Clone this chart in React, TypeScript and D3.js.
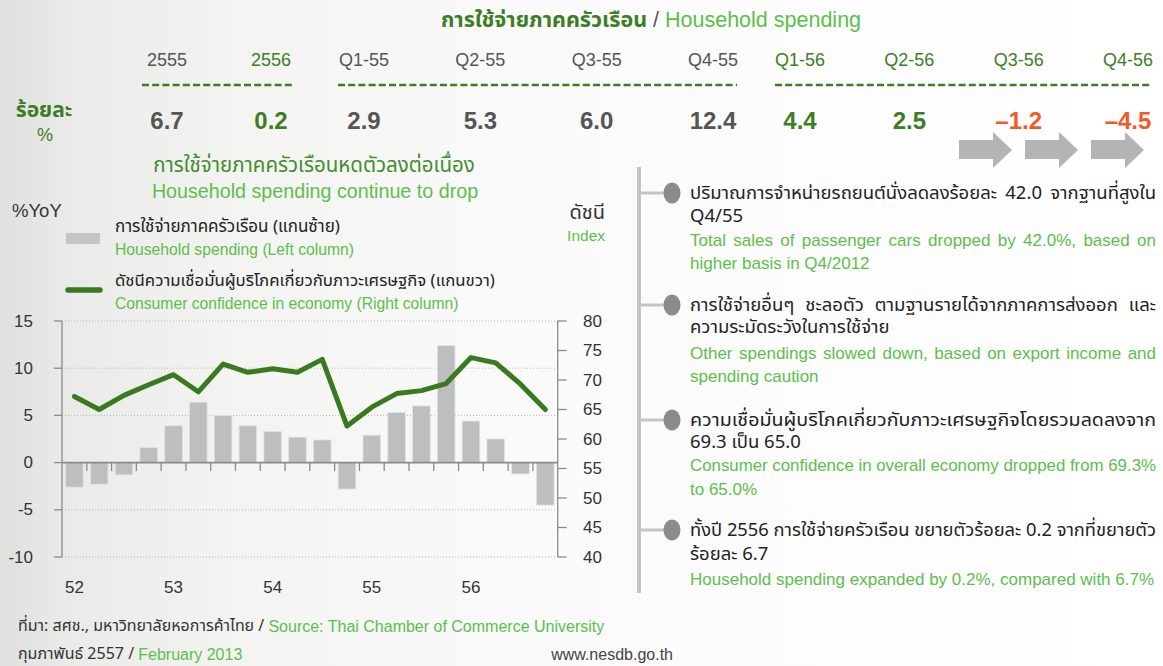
import React, { useLayoutEffect, useRef, useState } from "react";
import * as d3 from "d3";

// ---------- DATA ----------
const headerLabels = ["2555", "2556", "Q1-55", "Q2-55", "Q3-55", "Q4-55", "Q1-56", "Q2-56", "Q3-56", "Q4-56"];
const headerValues = [6.7, 0.2, 2.9, 5.3, 6.0, 12.4, 4.4, 2.5, -1.2, -4.5];
const headerTone = ["gray", "green", "gray", "gray", "gray", "gray", "green", "green", "red", "red"];

const quarters = [
  "52Q1", "52Q2", "52Q3", "52Q4",
  "53Q1", "53Q2", "53Q3", "53Q4",
  "54Q1", "54Q2", "54Q3", "54Q4",
  "55Q1", "55Q2", "55Q3", "55Q4",
  "56Q1", "56Q2", "56Q3", "56Q4",
];
const spending = [-2.6, -2.3, -1.3, 1.6, 3.9, 6.4, 5.0, 3.9, 3.3, 2.7, 2.4, -2.8, 2.9, 5.3, 6.0, 12.4, 4.4, 2.5, -1.2, -4.5];
const confidence = [67.2, 65.0, 67.4, 69.2, 70.9, 68.0, 72.7, 71.3, 71.9, 71.3, 73.5, 62.2, 65.4, 67.7, 68.2, 69.4, 73.8, 72.9, 69.3, 65.0];
const yearLabels = ["52", "53", "54", "55", "56"];
const yearFirstQuarter = ["52Q1", "53Q1", "54Q1", "55Q1", "56Q1"];
const leftTicks = [-10, -5, 0, 5, 10, 15];
const rightTicks = [40, 45, 50, 55, 60, 65, 70, 75, 80];

const notes = [
  {
    th: ["ปริมาณการจำหน่ายรถยนต์นั่งลดลงร้อยละ 42.0 จากฐานที่สูงใน", "Q4/55"],
    en: ["Total sales of passenger cars dropped by 42.0%, based on", "higher basis in Q4/2012"],
  },
  {
    th: ["การใช้จ่ายอื่นๆ ชะลอตัว ตามฐานรายได้จากภาคการส่งออก และ", "ความระมัดระวังในการใช้จ่าย"],
    en: ["Other spendings slowed down, based on export income and", "spending caution"],
  },
  {
    th: ["ความเชื่อมั่นผู้บริโภคเกี่ยวกับภาวะเศรษฐกิจโดยรวมลดลงจาก", "69.3 เป็น 65.0"],
    en: ["Consumer confidence in overall economy dropped from 69.3%", "to 65.0%"],
  },
  {
    th: ["ทั้งปี 2556 การใช้จ่ายครัวเรือน ขยายตัวร้อยละ 0.2 จากที่ขยายตัว", "ร้อยละ 6.7"],
    en: ["Household spending expanded by 0.2%, compared with 6.7%"],
  },
];

// ---------- STYLE / LAYOUT ----------
const FONT = "'Liberation Sans', Arial, Helvetica, sans-serif";
const THAI = "'Noto Sans Thai', 'Noto Sans Thai UI', Loma, Garuda, 'Liberation Sans', Arial, sans-serif";
const DARK_GREEN = "#3d7e25";
const LIGHT_GREEN = "#5cbf4c";
const GRAY_TEXT = "#555555";
const ORANGE = "#f15a24";
const toneColor: Record<string, string> = { gray: GRAY_TEXT, green: DARK_GREEN, red: ORANGE };

const W = 1163;
const H = 666;
const plot = { left: 62, right: 557.7, top: 321, bottom: 557 };

const headerGroups = [
  { from: 0, to: 1, x0: 167, x1: 271, dash: [142, 293] },
  { from: 2, to: 5, x0: 364, x1: 713, dash: [338, 737] },
  { from: 6, to: 9, x0: 800, x1: 1128, dash: [775, 1152] },
];
const arrowXs = [959, 1025, 1091];

const noteBulletY = [193, 305, 420, 530];
const noteLineOffsets = [
  [0, 23, 47, 70],
  [0, 22, 48, 71],
  [0, 22, 45, 69],
  [0, 24, 49],
];

function JText(props: {
  x: number; y: number; width: number; text: string; justify: boolean;
  fill: string; fontSize: number; fontFamily: string;
}) {
  const { x, y, width, text, justify, fill, fontSize, fontFamily } = props;
  const ref = useRef<SVGTextElement>(null);
  const [adj, setAdj] = useState<any>({});
  useLayoutEffect(() => {
    if (!justify || !ref.current) return;
    const w = ref.current.getComputedTextLength();
    const n = (text.match(/ /g) || []).length;
    const diff = width - w;
    if (n > 0 && diff >= 0 && diff / n < 25) setAdj({ style: { wordSpacing: `${diff / n}px` } });
    else setAdj({ textLength: width, lengthAdjust: "spacingAndGlyphs" });
  }, [text, width, justify, fontSize]);
  return (
    <text ref={ref} x={x} y={y} fill={fill} fontSize={fontSize} fontFamily={fontFamily}
      dominantBaseline="central" {...adj}>
      {text}
    </text>
  );
}

export default function App() {
  const x = d3.scaleBand<string>().domain(quarters).range([plot.left, plot.right]).paddingInner(0.29).paddingOuter(0.145);
  const yL = d3.scaleLinear().domain([-10, 15]).range([plot.bottom, plot.top]);
  const yR = d3.scaleLinear().domain([40, 80]).range([plot.bottom, plot.top]);
  const step = x.step();
  const bw = x.bandwidth();
  const cx = (q: string) => (x(q) as number) + bw / 2;

  const line = d3.line<number>()
    .x((_, i) => cx(quarters[i]))
    .y((d) => yR(d))
    .curve(d3.curveLinear);

  const boundaryTicks = quarters.slice(1).map((q) => (x(q) as number) - (step - bw) / 2);

  const arrowPath = (ax: number) => {
    const p = d3.path();
    p.moveTo(ax, 140);
    p.lineTo(ax + 34, 140);
    p.lineTo(ax + 34, 132);
    p.lineTo(ax + 53, 150);
    p.lineTo(ax + 34, 168);
    p.lineTo(ax + 34, 159);
    p.lineTo(ax, 159);
    p.closePath();
    return p.toString();
  };

  const fmt = (v: number) => (v < 0 ? "\u2013" + Math.abs(v).toFixed(1) : v.toFixed(1));

  return (
    <svg width={W} height={H} style={{ position: "absolute", left: 0, top: 0, display: "block" }}
      fontFamily={FONT}>
      <defs>
        <linearGradient id="bg" x1="0" x2="1" y1="0" y2="0">
          <stop offset="0" stopColor="#e0e0de" />
          <stop offset="0.06" stopColor="#eaeae8" />
          <stop offset="0.2" stopColor="#f3f3f2" />
          <stop offset="0.45" stopColor="#fafafa" />
          <stop offset="1" stopColor="#ffffff" />
        </linearGradient>
      </defs>
      <rect x={0} y={0} width={W} height={H} fill="url(#bg)" />

      {/* Title */}
      <text x={651} y={20} textAnchor="middle" dominantBaseline="central" fontSize={21.5}>
        <tspan fill={DARK_GREEN} fontWeight="bold" fontFamily={THAI}>การใช้จ่ายภาคครัวเรือน</tspan>
        <tspan fill={GRAY_TEXT}> / </tspan>
        <tspan fill={LIGHT_GREEN}>Household spending</tspan>
      </text>

      {/* Header table */}
      {headerGroups.map((g, gi) => {
        const idx = d3.range(g.from, g.to + 1);
        const sx = d3.scalePoint<number>().domain(idx).range([g.x0, g.x1]);
        return (
          <g key={gi}>
            <line x1={g.dash[0]} x2={g.dash[1]} y1={85} y2={85} stroke={DARK_GREEN} strokeWidth={2.5}
              strokeDasharray="7 3.2" />
            {idx.map((i) => (
              <g key={i}>
                <text x={sx(i)} y={60} textAnchor="middle" dominantBaseline="central" fontSize={18}
                  fill={headerTone[i] === "gray" ? GRAY_TEXT : DARK_GREEN}>{headerLabels[i]}</text>
                <text x={sx(i)} y={120} textAnchor="middle" dominantBaseline="central" fontSize={24}
                  fontWeight="bold" fill={toneColor[headerTone[i]]}>{fmt(headerValues[i])}</text>
              </g>
            ))}
          </g>
        );
      })}
      <text x={44} y={110} textAnchor="middle" dominantBaseline="central" fontSize={21} fontWeight="bold"
        fill={DARK_GREEN} fontFamily={THAI}>ร้อยละ</text>
      <text x={45} y={135} textAnchor="middle" dominantBaseline="central" fontSize={18} fill={DARK_GREEN}>%</text>
      {arrowXs.map((ax) => (
        <path key={ax} d={arrowPath(ax)} fill="#b2b4b6" />
      ))}

      {/* Chart subtitle */}
      <text x={314} y={165} textAnchor="middle" dominantBaseline="central" fontSize={20.5} fill="#3f8f2c"
        fontFamily={THAI}>การใช้จ่ายภาคครัวเรือนหดตัวลงต่อเนื่อง</text>
      <text x={315} y={191} textAnchor="middle" dominantBaseline="central" fontSize={19.7} fill={LIGHT_GREEN}>
        Household spending continue to drop</text>

      <text x={12} y={210} dominantBaseline="central" fontSize={18.5} fill="#333">%YoY</text>
      <text x={605} y={213} textAnchor="end" dominantBaseline="central" fontSize={20} fill="#333"
        fontFamily={THAI}>ดัชนี</text>
      <text x={605} y={235} textAnchor="end" dominantBaseline="central" fontSize={15.5} fill={LIGHT_GREEN}>Index</text>

      {/* Legend */}
      <rect x={66} y={233} width={34} height={11} fill="#c4c5c7" />
      <text x={115} y={227} dominantBaseline="central" fontSize={17} fill="#222" fontFamily={THAI}>
        การใช้จ่ายภาคครัวเรือน (แกนซ้าย)</text>
      <text x={115} y={249} dominantBaseline="central" fontSize={15.7} fill={LIGHT_GREEN}>
        Household spending (Left column)</text>
      <line x1={68} x2={100} y1={290} y2={290} stroke="#3a7a1f" strokeWidth={5.5} strokeLinecap="round" />
      <text x={115} y={281} dominantBaseline="central" fontSize={16.8} fill="#222" fontFamily={THAI}>
        ดัชนีความเชื่อมั่นผู้บริโภคเกี่ยวกับภาวะเศรษฐกิจ (แกนขวา)</text>
      <text x={115} y={303} dominantBaseline="central" fontSize={15.7} fill={LIGHT_GREEN}>
        Consumer confidence in economy (Right column)</text>

      {/* Gridlines */}
      {leftTicks.filter((t) => t !== 0).map((t) => (
        <line key={t} x1={plot.left} x2={plot.right} y1={yL(t)} y2={yL(t)} stroke="#b5b5b5"
          strokeWidth={1} strokeDasharray="1 2" />
      ))}

      {/* Bars */}
      {quarters.map((q, i) => {
        const v = spending[i];
        const y0 = yL(0);
        const y1 = yL(v);
        return (
          <rect key={q} x={x(q)} y={Math.min(y0, y1)} width={bw} height={Math.abs(y1 - y0)}
            fill="#bdbec0" stroke="#e2e2e2" strokeWidth={0.8} />
        );
      })}

      {/* Axes */}
      <line x1={plot.left} x2={plot.left} y1={plot.top} y2={plot.bottom} stroke="#8a8a8a" strokeWidth={1.3} />
      <line x1={plot.right} x2={plot.right} y1={plot.top} y2={plot.bottom} stroke="#8a8a8a" strokeWidth={1.3} />
      <line x1={plot.left} x2={plot.right} y1={yL(0)} y2={yL(0)} stroke="#8a8a8a" strokeWidth={1.6} />
      {boundaryTicks.map((tx, i) => (
        <line key={i} x1={tx} x2={tx} y1={yL(0)} y2={yL(0) + 8.5} stroke="#8a8a8a" strokeWidth={1.3} />
      ))}
      {leftTicks.map((t) => (
        <g key={t}>
          <line x1={plot.left - 8} x2={plot.left} y1={yL(t)} y2={yL(t)} stroke="#8a8a8a" strokeWidth={1.3} />
          <text x={33} y={yL(t)} textAnchor="end" dominantBaseline="central" fontSize={17} fill="#333">{t}</text>
        </g>
      ))}
      {rightTicks.map((t) => (
        <g key={t}>
          <line x1={plot.right} x2={plot.right + 9} y1={yR(t)} y2={yR(t)} stroke="#8a8a8a" strokeWidth={1.3} />
          <text x={583} y={yR(t)} dominantBaseline="central" fontSize={17} fill="#333">{t}</text>
        </g>
      ))}
      {yearLabels.map((lab, i) => (
        <text key={lab} x={cx(yearFirstQuarter[i])} y={587} textAnchor="middle" dominantBaseline="central"
          fontSize={17} fill="#333">{lab}</text>
      ))}

      {/* Line */}
      <path d={line(confidence) || ""} fill="none" stroke="#3a7a1f" strokeWidth={5} strokeLinejoin="round"
        strokeLinecap="round" />

      {/* Right notes panel */}
      <line x1={639} x2={639} y1={167} y2={593} stroke="#c3c4c6" strokeWidth={4} />
      {notes.map((n, ni) => {
        const by = noteBulletY[ni];
        const offs = noteLineOffsets[ni];
        const lines = [
          ...n.th.map((t, k) => ({ t, th: true, just: k < n.th.length - 1 })),
          ...n.en.map((t, k) => ({ t, th: false, just: k < n.en.length - 1 })),
        ];
        return (
          <g key={ni}>
            <line x1={639} x2={668} y1={by} y2={by} stroke="#c3c4c6" strokeWidth={3} />
            <ellipse cx={672} cy={by} rx={8.5} ry={10.5} fill="#898b8e" />
            {lines.map((l, k) => (
              <JText key={k} x={690} y={by + offs[k]} width={466} text={l.t} justify={l.just}
                fill={l.th ? "#222" : LIGHT_GREEN} fontSize={l.th ? 18.5 : 17} fontFamily={l.th ? THAI : FONT} />
            ))}
          </g>
        );
      })}

      {/* Footer */}
      <text x={18} y={626} dominantBaseline="central" fontSize={16}>
        <tspan fill="#333" fontFamily={THAI}>ที่มา: สศช., มหาวิทยาลัยหอการค้าไทย / </tspan>
        <tspan fill={LIGHT_GREEN}>Source: Thai Chamber of Commerce University</tspan>
      </text>
      <text x={18} y={654} dominantBaseline="central" fontSize={16}>
        <tspan fill="#333" fontFamily={THAI}>กุมภาพันธ์ 2557 / </tspan>
        <tspan fill={LIGHT_GREEN}>February 2013</tspan>
      </text>
      <text x={673} y={654} textAnchor="end" dominantBaseline="central" fontSize={16} fill="#444">www.nesdb.go.th</text>
    </svg>
  );
}
